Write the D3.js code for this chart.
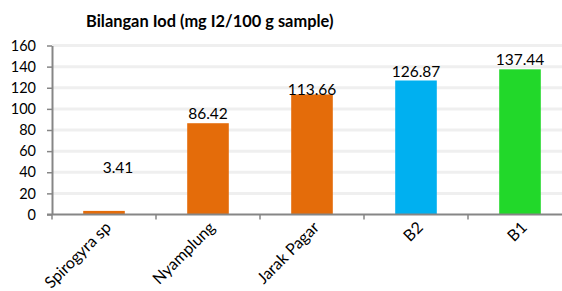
<!DOCTYPE html>
<html>
<head>
<meta charset="utf-8">
<script src="https://cdn.jsdelivr.net/npm/d3@7"></script>
<style>
  body { margin: 0; background: #fff; }
  svg { display: block; font-family: Lato, "Open Sans", sans-serif; }
</style>
</head>
<body>
<div id="chart"></div>
<script>
const categories = ["Spirogyra sp", "Nyamplung", "Jarak Pagar", "B2", "B1"];
const values = [3.41, 86.42, 113.66, 126.87, 137.44];
const barColors = ["#e46c0a", "#e46c0a", "#e46c0a", "#00b0f0", "#22d82a"];
const yTicks = [0, 20, 40, 60, 80, 100, 120, 140, 160];
const title = "Bilangan Iod (mg I2/100 g sample)";

const width = 562, height = 291;
const axisX = 52, axisY = 214.5, plotRight = 572;

const svg = d3.select("#chart").append("svg")
  .attr("width", width)
  .attr("height", height);

const x = d3.scaleBand()
  .domain(categories)
  .range([axisX, plotRight])
  .paddingInner(0.6)
  .paddingOuter(0.3);

const y = d3.scaleLinear()
  .domain([0, 160])
  .range([axisY, 45.5]);

// gridlines
svg.append("g")
  .selectAll("line")
  .data(yTicks.filter(d => d > 0))
  .join("line")
    .attr("x1", axisX)
    .attr("x2", width)
    .attr("y1", d => y(d))
    .attr("y2", d => y(d))
    .attr("stroke", "#efefef")
    .attr("stroke-width", 3);

// bars
svg.append("g")
  .selectAll("rect")
  .data(values)
  .join("rect")
    .attr("x", (d, i) => x(categories[i]))
    .attr("y", d => y(d))
    .attr("width", x.bandwidth())
    .attr("height", d => axisY - y(d))
    .attr("fill", (d, i) => barColors[i]);

// y axis
const yAxis = svg.append("g")
  .attr("transform", `translate(${axisX},0)`)
  .call(d3.axisLeft(y).tickValues(yTicks).tickSize(5).tickSizeOuter(0).tickPadding(11));
yAxis.select(".domain").attr("stroke", "#868686").attr("stroke-width", 2);
yAxis.selectAll(".tick line").attr("stroke", "#868686").attr("stroke-width", 1.5);
yAxis.selectAll(".tick text")
  .attr("font-size", 14.5)
  .attr("font-family", "Lato, sans-serif")
  .attr("fill", "#000");

// x axis line and ticks at band boundaries
const step = x.step();
const boundaries = d3.range(categories.length + 1).map(i => axisX + i * step);
svg.append("line")
  .attr("x1", axisX - 5)
  .attr("x2", width)
  .attr("y1", axisY)
  .attr("y2", axisY)
  .attr("stroke", "#868686")
  .attr("stroke-width", 2);
svg.append("g")
  .selectAll("line")
  .data(boundaries)
  .join("line")
    .attr("x1", d => d)
    .attr("x2", d => d)
    .attr("y1", axisY)
    .attr("y2", axisY + 5)
    .attr("stroke", "#868686")
    .attr("stroke-width", 1.5);

// category labels
svg.append("g")
  .selectAll("text")
  .data(categories)
  .join("text")
    .attr("transform", d => `translate(${x(d) + x.bandwidth() / 2 + 8},${axisY + 14}) rotate(-45)`)
    .attr("text-anchor", "end")
    .attr("font-size", 16)
    .attr("fill", "#000")
    .text(d => d);

// value labels (Excel labels moved by hand in original)
const labelShift = [[14, -38], [0, -4], [0, 0.5], [0, -3.5], [0, -4]];
svg.append("g")
  .selectAll("text")
  .data(values)
  .join("text")
    .attr("x", (d, i) => x(categories[i]) + x.bandwidth() / 2 + labelShift[i][0])
    .attr("y", (d, i) => y(d) + labelShift[i][1])
    .attr("text-anchor", "middle")
    .attr("font-size", 15.5)
    .attr("fill", "#000")
    .text(d => d.toFixed(2));

// title
svg.append("text")
  .attr("x", 86)
  .attr("y", 27)
  .attr("font-size", 16.4)
  .attr("font-weight", "bold")
  .attr("fill", "#000")
  .text(title);
</script>
</body>
</html>
